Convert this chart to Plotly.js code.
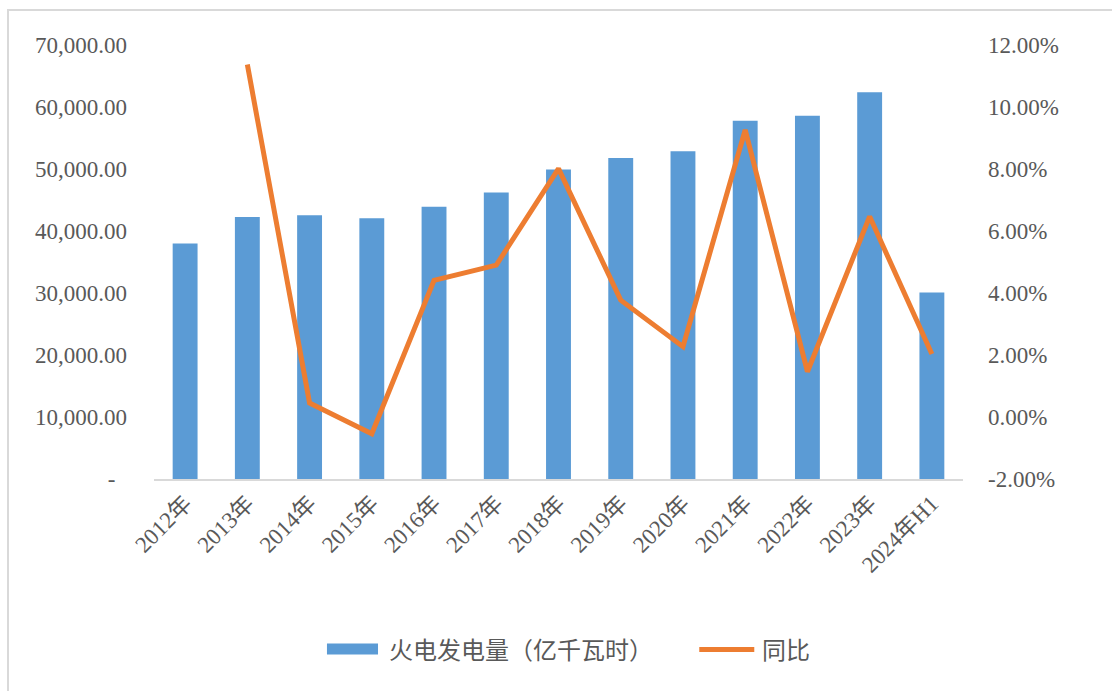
<!DOCTYPE html>
<html>
<head>
<meta charset="utf-8">
<script src="https://cdn.plot.ly/plotly-3.0.1.min.js"></script>
<style>
  html, body { margin: 0; padding: 0; background: #ffffff; }
  #chart { position: absolute; left: 0; top: 0; width: 1112px; height: 691px; }
  #frame { position: absolute; left: 7px; top: 9px; width: 1200px; height: 800px;
           border-left: 2px solid #d9d9d9; border-top: 2px solid #d9d9d9; pointer-events: none; }
</style>
</head>
<body>
<div id="chart"></div>
<div id="frame"></div>
<script>
const categories = ['2012年','2013年','2014年','2015年','2016年','2017年','2018年','2019年','2020年','2021年','2022年','2023年','2024年H1'];
const generation = [37970, 42270, 42550, 42060, 43930, 46190, 49900, 51780, 52860, 57790, 58600, 62370, 30070];
const yoyCategories = ['2013年','2014年','2015年','2016年','2017年','2018年','2019年','2020年','2021年','2022年','2023年','2024年H1'];
const yoy = [11.37, 0.45, -0.54, 4.41, 4.90, 8.01, 3.77, 2.27, 9.26, 1.46, 6.47, 2.03];
const leftTickVals = [0, 10000, 20000, 30000, 40000, 50000, 60000, 70000];
const leftTickText = ['-\u00a0\u00a0', '10,000.00', '20,000.00', '30,000.00', '40,000.00', '50,000.00', '60,000.00', '70,000.00'];
const rightTickVals = [-2, 0, 2, 4, 6, 8, 10, 12];
const rightTickText = ['-2.00%', '0.00%', '2.00%', '4.00%', '6.00%', '8.00%', '10.00%', '12.00%'];
const seriesNames = ['火电发电量（亿千瓦时）', '同比'];

const fontFam = 'Liberation Serif, "Noto Sans CJK SC", serif';
const cjkFam = '"Noto Sans CJK SC", sans-serif';
const grey = '#595959';
const barColor = '#5b9bd5';
const lineColor = '#ed7d31';

const traces = [
  {
    type: 'bar', name: seriesNames[0], x: categories, y: generation,
    marker: { color: barColor }, yaxis: 'y', showlegend: false
  },
  {
    type: 'scatter', mode: 'lines', name: seriesNames[1], x: yoyCategories, y: yoy,
    line: { color: lineColor, width: 5 }, yaxis: 'y2', showlegend: false
  }
];

// custom legend (paper coordinates) to reproduce the wide swatches
const legY = -0.390;
const shapes = [
  { type: 'rect', xref: 'paper', yref: 'paper', x0: 0.2138, x1: 0.2769, y0: -0.4046, y1: -0.3792,
    fillcolor: barColor, line: { width: 0 } },
  { type: 'line', xref: 'paper', yref: 'paper', x0: 0.6740, x1: 0.7420, y0: -0.393, y1: -0.393,
    line: { color: lineColor, width: 5 } }
];
const annotations = [
  { xref: 'paper', yref: 'paper', x: 0.2880, y: legY, xanchor: 'left', yanchor: 'middle',
    text: seriesNames[0], showarrow: false, font: { family: cjkFam, size: 24, color: grey } },
  { xref: 'paper', yref: 'paper', x: 0.7491, y: legY, xanchor: 'left', yanchor: 'middle',
    text: seriesNames[1], showarrow: false, font: { family: cjkFam, size: 24, color: grey } }
];

const layout = {
  width: 1112, height: 691,
  margin: { l: 154, r: 149, t: 45, b: 212 },
  paper_bgcolor: '#ffffff', plot_bgcolor: '#ffffff',
  bargap: 0.6,
  showlegend: false,
  shapes: shapes,
  annotations: annotations,
  xaxis: {
    type: 'category', tickangle: -45, showgrid: false, zeroline: false,
    showline: true, linecolor: '#d9d9d9', linewidth: 2,
    tickfont: { family: fontFam, size: 23, color: grey }, ticks: ''
  },
  yaxis: {
    range: [0, 70000], tickvals: leftTickVals, ticktext: leftTickText,
    showgrid: false, zeroline: false, showline: false,
    tickfont: { family: fontFam, size: 23, color: grey }, ticklabelstandoff: 26
  },
  yaxis2: {
    overlaying: 'y', side: 'right', range: [-2, 12],
    tickvals: rightTickVals, ticktext: rightTickText,
    showgrid: false, zeroline: false, showline: false,
    tickfont: { family: fontFam, size: 23, color: grey }, ticklabelstandoff: 24
  }
};

Plotly.newPlot('chart', traces, layout, { displayModeBar: false, staticPlot: true });
</script>
</body>
</html>
